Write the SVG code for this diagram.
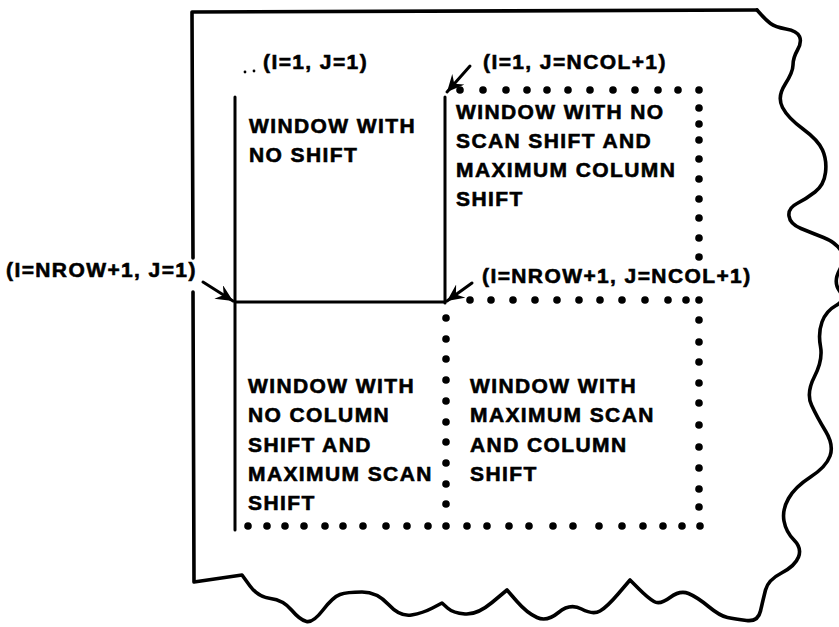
<svg xmlns="http://www.w3.org/2000/svg" width="839" height="627" viewBox="0 0 839 627">
<style>
.t{font-family:"Liberation Sans",Arial,sans-serif;font-weight:bold;font-size:21px;letter-spacing:1.4px;fill:#000;stroke:#000;stroke-width:0.6px}
.ln{stroke:#000;stroke-width:3;fill:none;stroke-linecap:round}
.brd{stroke:#000;stroke-width:3.6;fill:none;stroke-linejoin:round;stroke-linecap:round}
.d{fill:#000}
</style>
<defs>
<marker id="ah" markerUnits="userSpaceOnUse" markerWidth="20" markerHeight="18" refX="17" refY="8" orient="auto">
<path d="M0,0 L17,8 L0,16 L6,8 z" fill="#000"/>
</marker>
<circle id="dt" r="3.8"/>
</defs>
<rect width="839" height="627" fill="#fff"/>
<g id="border">
<path class="brd" d="M193,258 L192,12 L757,10"/>
<path class="brd" d="M757,10 L761.5,15 Q766,20 770.5,23.5 Q775,27 786,29 Q797,31 799.5,36.5 Q802,42 797.5,50 Q793,58 793,65 Q793,72 785,84.5 Q777,97 782.5,107.5 Q788,118 803,129 Q818,140 822.5,150 Q827,160 825.5,172.5 Q824,185 815,192 Q806,199 797,203.5 Q788,208 789,216 Q790,224 801,228.5 Q812,233 823.5,237.5 Q835,242 840.5,250 Q846,258 839.5,270 Q833,282 839.5,291 Q846,300 836,305.5 Q826,311 822,322 Q818,333 820.5,346.5 Q823,360 814.5,376.5 Q806,393 811.5,405 Q817,417 825.5,431 Q834,445 830,456 Q826,467 810.5,477 Q795,487 788.5,498.5 Q782,510 784,521 Q786,532 794,540 Q802,548 798.5,557 Q795,566 781.5,573 Q768,580 765.5,590 Q763,600 760.5,611 Q758,622 746.5,620.5 Q735,619 727.5,617.5 Q720,616 708.5,606.5 Q697,597 688.5,593.5 Q680,590 670,597.5 Q660,605 654,601.5 Q648,598 639,589 L630,580 L618.5,593.5 Q607,607 600,611 Q593,615 581.5,609 Q570,603 558.5,612.5 Q547,622 537,617.5 Q527,613 517,601.5 L507,590 L492,602.5 Q477,615 465,614 Q453,613 447.5,608 L442,603 L432.5,608 Q423,613 411.5,615 Q400,617 388.5,604.5 Q377,592 362,592 Q347,592 340,594.5 Q333,597 323,610 Q313,623 306.5,621.5 Q300,620 291.5,610 Q283,600 270.5,598.5 Q258,597 250,586 L242,575 L218,578.5 L194,582 L193,292"/>
</g>
<g id="connectors">
<line class="ln" x1="235" y1="97" x2="235" y2="530"/>
<line class="ln" x1="445" y1="97" x2="445" y2="303"/>
<line class="ln" x1="235" y1="302" x2="445" y2="302"/>
<line class="ln" x1="470" y1="66" x2="447" y2="92" marker-end="url(#ah)"/>
<line class="ln" x1="203" y1="282" x2="233" y2="301" marker-end="url(#ah)"/>
<line class="ln" x1="472" y1="283" x2="447" y2="301" marker-end="url(#ah)"/>
<circle cx="245" cy="72" r="1.4" class="d"/>
<circle cx="254" cy="71" r="1.4" class="d"/>
</g>
<g id="dots" class="d">
<use href="#dt" x="460" y="90"/><use href="#dt" x="483" y="90"/><use href="#dt" x="506" y="90"/><use href="#dt" x="527" y="90"/><use href="#dt" x="547" y="90"/><use href="#dt" x="568" y="90"/><use href="#dt" x="590" y="90"/><use href="#dt" x="613" y="90"/><use href="#dt" x="635" y="90"/><use href="#dt" x="658" y="90"/><use href="#dt" x="678" y="90"/><use href="#dt" x="699" y="90"/>
<use href="#dt" x="699" y="108"/><use href="#dt" x="699" y="124"/><use href="#dt" x="699" y="140"/><use href="#dt" x="699" y="159"/><use href="#dt" x="699" y="179"/><use href="#dt" x="699" y="199"/><use href="#dt" x="699" y="218"/><use href="#dt" x="699" y="238"/><use href="#dt" x="699" y="257"/>
<use href="#dt" x="470" y="300"/><use href="#dt" x="491" y="300"/><use href="#dt" x="513" y="300"/><use href="#dt" x="535" y="300"/><use href="#dt" x="557" y="300"/><use href="#dt" x="579" y="300"/><use href="#dt" x="600" y="300"/><use href="#dt" x="622" y="300"/><use href="#dt" x="645" y="300"/><use href="#dt" x="668" y="300"/><use href="#dt" x="686" y="300"/><use href="#dt" x="699" y="300"/>
<use href="#dt" x="699" y="320"/><use href="#dt" x="699" y="342"/><use href="#dt" x="699" y="362"/><use href="#dt" x="699" y="383"/><use href="#dt" x="699" y="403"/><use href="#dt" x="699" y="425"/><use href="#dt" x="699" y="447"/><use href="#dt" x="699" y="468"/><use href="#dt" x="699" y="489"/><use href="#dt" x="699" y="507"/>
<use href="#dt" x="446" y="318"/><use href="#dt" x="446" y="339"/><use href="#dt" x="446" y="359"/><use href="#dt" x="446" y="380"/><use href="#dt" x="446" y="401"/><use href="#dt" x="446" y="422"/><use href="#dt" x="446" y="442"/><use href="#dt" x="446" y="463"/><use href="#dt" x="446" y="484"/><use href="#dt" x="446" y="504"/>
<use href="#dt" x="248" y="526"/><use href="#dt" x="267" y="526"/><use href="#dt" x="285" y="526"/><use href="#dt" x="304" y="526"/><use href="#dt" x="325" y="526"/><use href="#dt" x="343" y="526"/><use href="#dt" x="363" y="526"/><use href="#dt" x="386" y="526"/><use href="#dt" x="407" y="526"/><use href="#dt" x="428" y="526"/><use href="#dt" x="446" y="526"/><use href="#dt" x="467" y="526"/><use href="#dt" x="487" y="526"/><use href="#dt" x="509" y="526"/><use href="#dt" x="529" y="526"/><use href="#dt" x="553" y="526"/><use href="#dt" x="573" y="526"/><use href="#dt" x="599" y="526"/><use href="#dt" x="622" y="526"/><use href="#dt" x="643" y="526"/><use href="#dt" x="663" y="526"/><use href="#dt" x="682" y="526"/><use href="#dt" x="700" y="526"/>
</g>
<g id="label-i1j1"><text class="t" x="263" y="69">(I=1, J=1)</text></g>
<g id="label-i1jncol"><text class="t" x="483" y="69">(I=1, J=NCOL+1)</text></g>
<g id="label-inrowj1"><text class="t" x="6" y="277">(I=NROW+1, J=1)</text></g>
<g id="label-inrowjncol"><text class="t" x="482" y="283">(I=NROW+1, J=NCOL+1)</text></g>
<g id="window-no-shift"><text class="t" x="249" y="133">WINDOW WITH</text><text class="t" x="249" y="162">NO SHIFT</text></g>
<g id="window-col-shift"><text class="t" x="456" y="119">WINDOW WITH NO</text><text class="t" x="456" y="148">SCAN SHIFT AND</text><text class="t" x="456" y="177">MAXIMUM COLUMN</text><text class="t" x="456" y="206">SHIFT</text></g>
<g id="window-scan-shift"><text class="t" x="248" y="393">WINDOW WITH</text><text class="t" x="248" y="422">NO COLUMN</text><text class="t" x="248" y="452">SHIFT AND</text><text class="t" x="248" y="481">MAXIMUM SCAN</text><text class="t" x="248" y="510">SHIFT</text></g>
<g id="window-both-shift"><text class="t" x="470" y="393">WINDOW WITH</text><text class="t" x="470" y="422">MAXIMUM SCAN</text><text class="t" x="470" y="452">AND COLUMN</text><text class="t" x="470" y="481">SHIFT</text></g>
</svg>
